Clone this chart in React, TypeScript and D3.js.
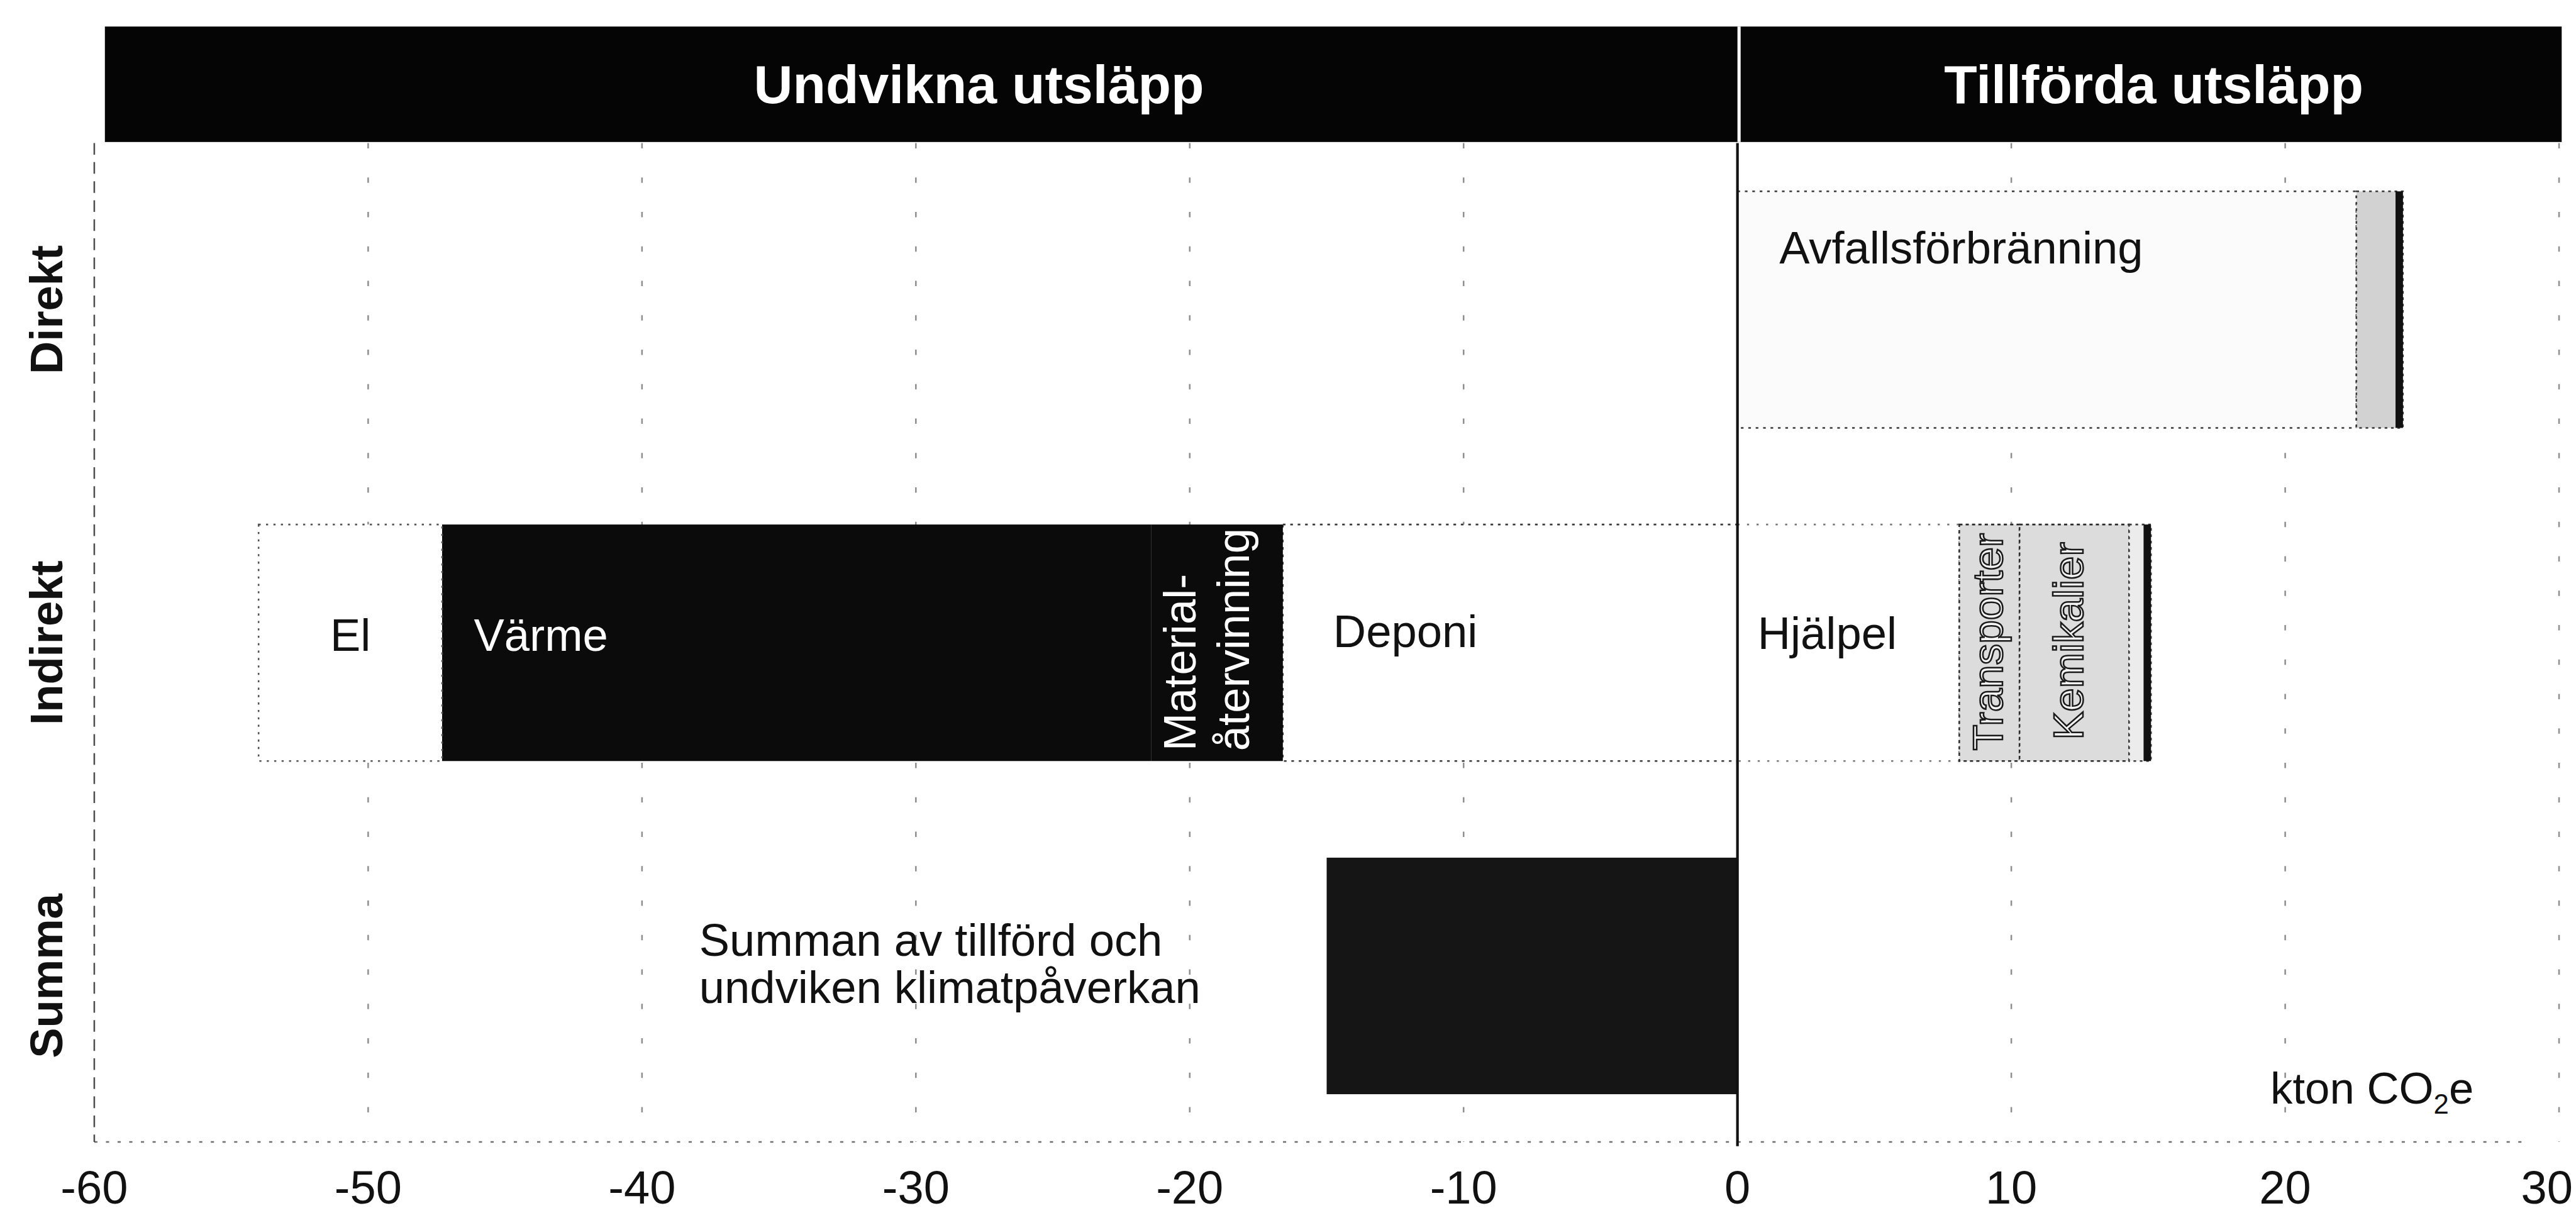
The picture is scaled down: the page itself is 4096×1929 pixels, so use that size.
import { scaleBand, scaleLinear } from "d3"

// rows and axis
const rowLabels = ["Direkt", "Indirekt", "Summa"]
const xTicks = [-60, -50, -40, -30, -20, -10, 0, 10, 20, 30]
const headerLabels = ["Undvikna utsläpp", "Tillförda utsläpp"]
const headerCenters = [-27.7, 15.2]

// stacked segments, each list goes outwards from zero (kton CO2e)
const direktPositive = [
  { key: "Avfallsförbränning", value: 22.6 },
  { key: "direktRest", value: 1.7 },
]
const indirektNegative = [
  { key: "Deponi", value: -16.6 },
  { key: "Material", value: -4.8 },
  { key: "Värme", value: -25.9 },
  { key: "El", value: -6.7 },
]
const indirektPositive = [
  { key: "Hjälpel", value: 8.1 },
  { key: "Transporter", value: 2.2 },
  { key: "Kemikalier", value: 4.0 },
  { key: "indirektRest", value: 0.8 },
]
const summaValues = [{ key: "Summa", value: -15.0 }]

const labelText: Record<string, string[]> = {
  Avfallsförbränning: ["Avfallsförbränning"],
  Deponi: ["Deponi"],
  Material: ["Material-", "återvinning"],
  Värme: ["Värme"],
  El: ["El"],
  Hjälpel: ["Hjälpel"],
  Transporter: ["Transporter"],
  Kemikalier: ["Kemikalier"],
}
const summaNote = ["Summan av tillförd och", "undviken klimatpåverkan"]

type Seg = { key: string; value: number }
type Style = {
  fill: string
  stroke?: string
  dash?: string
  edge?: boolean
  color?: string
  mode?: "start" | "middle" | "vertical" | "outline"
  dx?: number | number[]
  dy?: number
}

const segStyle: Record<string, Style> = {
  Avfallsförbränning: { fill: "#fbfbfb", stroke: "#3a3a3a", dash: "5 9", color: "#111", mode: "start", dx: 79, dy: -87 },
  direktRest: { fill: "#d2d2d2", stroke: "#3a3a3a", dash: "5 7", edge: true },
  Deponi: { fill: "#ffffff", stroke: "#3a3a3a", dash: "5 9", color: "#111", mode: "start", dx: 95, dy: 8 },
  Material: { fill: "#0b0b0b", color: "#ffffff", mode: "vertical", dx: [83, 184], dy: -19 },
  Värme: { fill: "#0b0b0b", color: "#ffffff", mode: "start", dx: 60, dy: 15 },
  El: { fill: "#ffffff", stroke: "#555", dash: "4 10", color: "#111", mode: "middle", dy: 15 },
  Hjälpel: { fill: "#ffffff", stroke: "#777", dash: "4 14", color: "#111", mode: "start", dx: 38, dy: 12 },
  Transporter: { fill: "#dcdcdc", stroke: "#2a2a2a", dash: "6 6", color: "#f4f4f4", mode: "outline", dx: 81, dy: -20 },
  Kemikalier: { fill: "#dcdcdc", stroke: "#2a2a2a", dash: "6 6", color: "#f4f4f4", mode: "outline", dx: 120, dy: -40 },
  indirektRest: { fill: "#ececec", stroke: "#3a3a3a", dash: "5 7", edge: true },
  Summa: { fill: "#151515" },
}

const W = 4863
const H = 2290
const font = "'Liberation Sans', Arial, Helvetica, sans-serif"

function stack(list: Seg[]) {
  let acc = 0
  return list.map((s) => {
    const from = acc
    acc += s.value
    return { ...s, from, to: acc }
  })
}

export default function App() {
  const x = scaleLinear().domain([-60, 30]).range([178, 4831])
  const y = scaleBand<string>().domain(rowLabels).range([270, 2157]).paddingInner(0.29).paddingOuter(0.145)
  const bw = y.bandwidth()
  const plotTop = 270
  const plotBottom = 2156
  const headerTop = 50

  const rows: { row: string; segs: ReturnType<typeof stack> }[] = [
    { row: "Direkt", segs: stack(direktPositive) },
    { row: "Indirekt", segs: stack(indirektNegative) },
    { row: "Indirekt", segs: stack(indirektPositive) },
    { row: "Summa", segs: stack(summaValues) },
  ]

  const fs = 86
  const lastTick = xTicks[xTicks.length - 1]

  return (
    <svg
      width={4096}
      height={1929}
      viewBox={`0 0 ${W} ${H}`}
      style={{ position: "absolute", left: 0, top: 0, background: "#fff", display: "block" }}
      fontFamily={font}
    >
      <rect x={0} y={0} width={W} height={H} fill="#fff" />

      {/* grid */}
      {xTicks.filter((t) => t !== 0 && t !== -60).map((t) => (
        <line key={t} x1={x(t)} x2={x(t)} y1={plotTop} y2={plotBottom} stroke="#333" strokeOpacity={0.55} strokeWidth={3} strokeDasharray="10 55" />
      ))}
      <line x1={x(-60)} x2={x(-60)} y1={plotTop} y2={plotBottom} stroke="#222" strokeOpacity={0.8} strokeWidth={3} strokeDasharray="22 14" />
      <line x1={x(-60)} x2={x(30) - 60} y1={plotBottom} y2={plotBottom} stroke="#333" strokeOpacity={0.7} strokeWidth={3} strokeDasharray="6 16" />

      {/* bars */}
      {rows.map(({ row, segs }) =>
        segs.map((s) => {
          const st = segStyle[s.key]
          const x0 = x(Math.min(s.from, s.to))
          const x1 = x(Math.max(s.from, s.to))
          const top = y(row) ?? 0
          const outer = s.value < 0 ? x0 : x1
          return (
            <g key={row + s.key}>
              <rect x={x0} y={top} width={x1 - x0} height={bw} fill={st.fill} stroke={st.stroke ?? "none"} strokeWidth={3} strokeDasharray={st.dash} />
              {st.edge && <rect x={outer - 14} y={top} width={14} height={bw} fill="#111" />}
            </g>
          )
        })
      )}

      {/* zero line */}
      <line x1={x(0)} x2={x(0)} y1={plotTop} y2={plotBottom + 8} stroke="#111" strokeWidth={5} />

      {/* segment labels */}
      {rows.map(({ row, segs }) =>
        segs.map((s) => {
          const st = segStyle[s.key]
          const lines = labelText[s.key]
          if (!lines || !st.mode) return null
          const top = y(row) ?? 0
          const mid = top + bw / 2
          const start = x(s.from + (s.value < 0 ? s.value : 0))
          const inner = s.value < 0 ? x(s.from + s.value) : x(s.from)
          if (st.mode === "start") {
            return (
              <text key={s.key} x={inner + (st.dx as number)} y={mid + (st.dy ?? 0)} fontSize={fs} fill={st.color}>
                {lines[0]}
              </text>
            )
          }
          if (st.mode === "middle") {
            return (
              <text key={s.key} x={(x(s.from) + x(s.to)) / 2} y={mid + (st.dy ?? 0)} fontSize={fs} fill={st.color} textAnchor="middle">
                {lines[0]}
              </text>
            )
          }
          const offs = Array.isArray(st.dx) ? st.dx : [st.dx ?? 0]
          return lines.map((ln, i) => (
            <text
              key={s.key + i}
              transform={`translate(${start + offs[i]},${top + bw + (st.dy ?? 0)}) rotate(-90)`}
              fontSize={st.mode === "outline" ? 80 : fs}
              fill={st.color}
              stroke={st.mode === "outline" ? "#1a1a1a" : "none"}
              strokeWidth={st.mode === "outline" ? 3 : 0}
            >
              {ln}
            </text>
          ))
        })
      )}

      {/* note next to the sum bar */}
      {summaNote.map((ln, i) => (
        <text key={ln} x={1320} y={1804 + i * 90} fontSize={86} fill="#111">
          {ln}
        </text>
      ))}

      {/* header band */}
      <rect x={x(-60) + 20} y={headerTop} width={x(30) + 5 - (x(-60) + 20)} height={plotTop - 2 - headerTop} fill="#050505" />
      <line x1={x(0) + 3} x2={x(0) + 3} y1={headerTop} y2={plotTop - 2} stroke="#fff" strokeWidth={6} />
      {headerLabels.map((lb, i) => (
        <text key={lb} x={x(headerCenters[i])} y={195} fontSize={102} fontWeight="bold" fill="#fff" textAnchor="middle">
          {lb}
        </text>
      ))}

      {/* row labels */}
      {rowLabels.map((r) => (
        <text
          key={r}
          transform={`translate(117,${(y(r) ?? 0) + bw / 2}) rotate(-90)`}
          fontSize={86}
          fontWeight="bold"
          fill="#111"
          textAnchor="middle"
        >
          {r}
        </text>
      ))}

      {/* x tick labels */}
      {xTicks.map((t) => (
        <text
          key={t}
          x={t === lastTick ? W - 6 : x(t)}
          y={2272}
          fontSize={88}
          fill="#111"
          textAnchor={t === lastTick ? "end" : "middle"}
        >
          {String(t)}
        </text>
      ))}

      {/* unit */}
      <text x={4286} y={2084} fontSize={84} fill="#111">
        kton CO
        <tspan fontSize={52} dy={18}>2</tspan>
        <tspan dy={-18}>e</tspan>
      </text>
    </svg>
  )
}
